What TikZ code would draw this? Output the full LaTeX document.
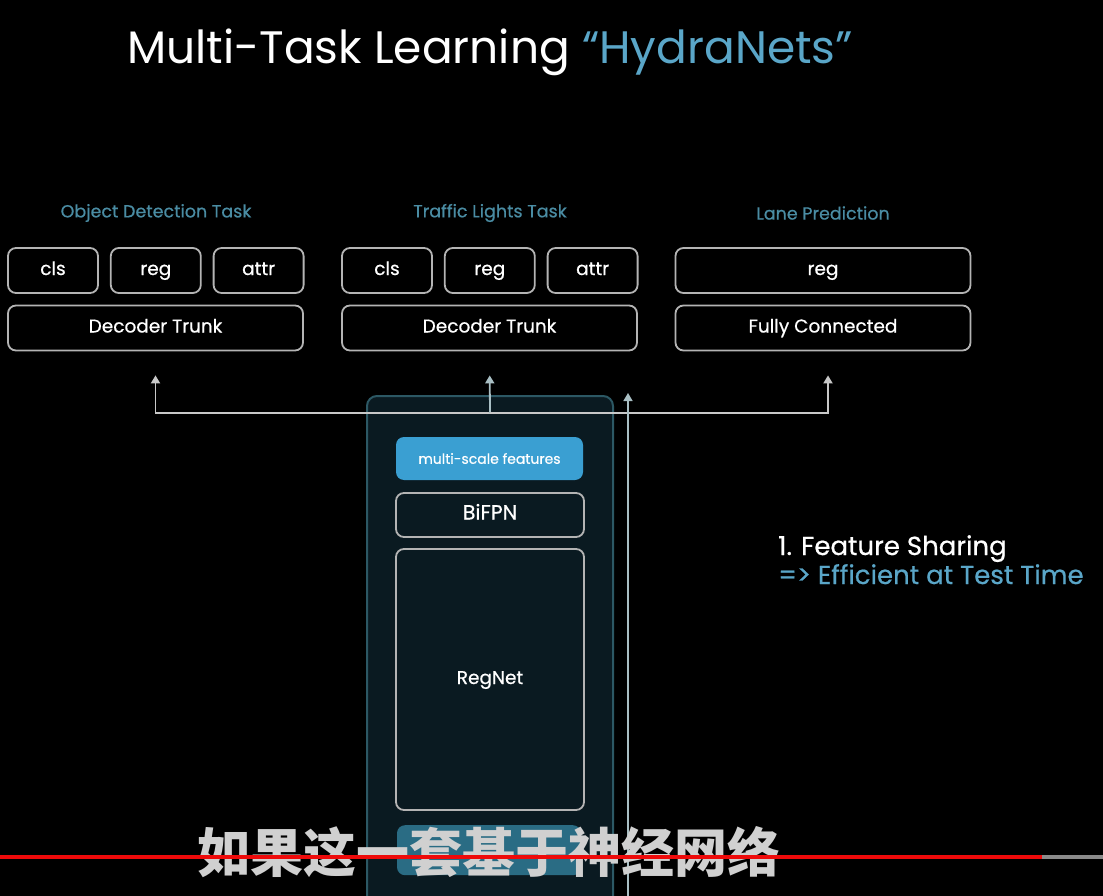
\documentclass[tikz,border=0pt]{standalone}
\usepackage{fontspec}
\setmainfont{Poppins}
\newfontfamily\medfont{Poppins}[FakeBold=0.6]
\newfontfamily\cjk{Noto Sans CJK SC}
\usepackage{tikz}
\usetikzlibrary{arrows.meta,positioning}
\usepackage{xcolor}
\definecolor{hydrablue}{HTML}{5AA6C8}
\definecolor{tasklbl}{HTML}{4A8CA3}
\definecolor{boxgray}{HTML}{B4B4B4}
\definecolor{arrowgray}{HTML}{C8C8C8}
\definecolor{panelbg}{HTML}{0A1A21}
\definecolor{panelline}{HTML}{2C5864}
\definecolor{featblue}{HTML}{3A9FD2}
\definecolor{featdim}{HTML}{2A6C84}
\definecolor{sidegray}{HTML}{A9BFC4}
\definecolor{subgray}{HTML}{D0D0D0}
\definecolor{progred}{HTML}{EE0A0A}
\definecolor{progrey}{HTML}{8A8A8A}

\begin{document}
\begin{tikzpicture}[x=1pt,y=-1pt,
  box/.style={draw=boxgray,line width=1.8pt,rounded corners=8pt,minimum height=45pt,
    inner sep=0pt,text height=13pt,text depth=4pt,text=white,
    font=\medfont\fontsize{18.5}{22}\selectfont},
  small/.style={box,minimum width=90pt},
  wide/.style={box,minimum width=295pt},
  task/.style={text=tasklbl,font=\medfont\fontsize{17.5}{20}\selectfont},
  up/.style={draw=arrowgray,line width=1.8pt,-{Triangle[length=8pt,width=9pt]}}]
  \clip (0,0) rectangle (1103,896);
  \fill[black] (0,0) rectangle (1103,896);
  % title
  \node[anchor=base west,inner sep=0pt,text=white,font=\fontsize{45.5}{50}\selectfont] (title)
    at (127,64) {Multi-Task Learning \textcolor{hydrablue}{“HydraNets”}};
  % object detection head
  \node[task] (odtask) at (156,213) {Object Detection Task};
  \node[small] (odcls) at (53,270.5) {cls};
  \node[small,right=11pt of odcls] (odreg) {reg};
  \node[small,right=11pt of odreg] (odattr) {attr};
  \node[wide] (odtrunk) at (155.5,328) {Decoder Trunk};
  % traffic lights head
  \node[task] (tltask) at (490,213) {Traffic Lights Task};
  \node[small] (tlcls) at (387,270.5) {cls};
  \node[small,right=11pt of tlcls] (tlreg) {reg};
  \node[small,right=11pt of tlreg] (tlattr) {attr};
  \node[wide] (tltrunk) at (489.5,328) {Decoder Trunk};
  % lane head
  \node[task] (lanetask) at (823,213) {Lane Prediction};
  \node[wide] (lanereg) at (823,270.5) {reg};
  \node[wide] (lanefc) at (823,328) {Fully Connected};
  % shared backbone
  \node[draw=panelline,fill=panelbg,line width=2pt,rounded corners=10pt,anchor=north west,
    minimum width=246pt,minimum height=530pt] (backbone) at (366,395) {};
  \node[fill=featblue,rounded corners=8pt,minimum width=187pt,minimum height=43pt,text=white,
    font=\medfont\fontsize{14}{16}\selectfont] (msf) at (489.5,458.5) {multi-scale features};
  \node[box,minimum width=188pt,minimum height=44pt,font=\medfont\fontsize{20.5}{24}\selectfont]
    (bifpn) at (490,515) {BiFPN};
  \node[box,minimum width=188pt,minimum height=261pt] (regnet) at (490,679.5) {RegNet};
  \node[fill=featdim,rounded corners=8pt,minimum width=184pt,minimum height=50pt,anchor=north]
    (stem) at (489,825) {};
  % arrows to the heads
  \coordinate (hub) at (490,413);
  \draw[up,shorten >=24pt] (hub) -| (odtrunk.south);
  \draw[up,draw=sidegray,shorten >=24pt] (hub) -- (tltrunk.south);
  \draw[up,shorten >=24pt] (hub) -| ([xshift=5pt]lanefc.south);
  \coordinate (sidefoot) at (628,896);
  \coordinate (sidetip) at (628,393);
  \draw[up,draw=sidegray,line width=1.5pt] (sidefoot) -- (sidetip);
  % note
  \node[anchor=base west,inner sep=0pt,text=white,font=\medfont\fontsize{26}{30}\selectfont]
    (share) at (778,555) {1. Feature Sharing};
  \node[anchor=base west,inner sep=0pt,text=hydrablue,font=\medfont\fontsize{26}{30}\selectfont]
    (effic) at (778,584) {=> Efficient at Test Time};
  % subtitle and progress bar
  \node[text=subgray,font=\cjk\bfseries\fontsize{53}{56}\selectfont] (subtitle) at (489,852)
    {如果这一套基于神经网络};
  \coordinate (barstart) at (0,857);
  \coordinate (barmark) at (1042,857);
  \coordinate (barend) at (1103,857);
  \draw[progred,line width=4pt] (barstart) -- (barmark);
  \draw[progrey,line width=4pt] (barmark) -- (barend);
\end{tikzpicture}
\end{document}
